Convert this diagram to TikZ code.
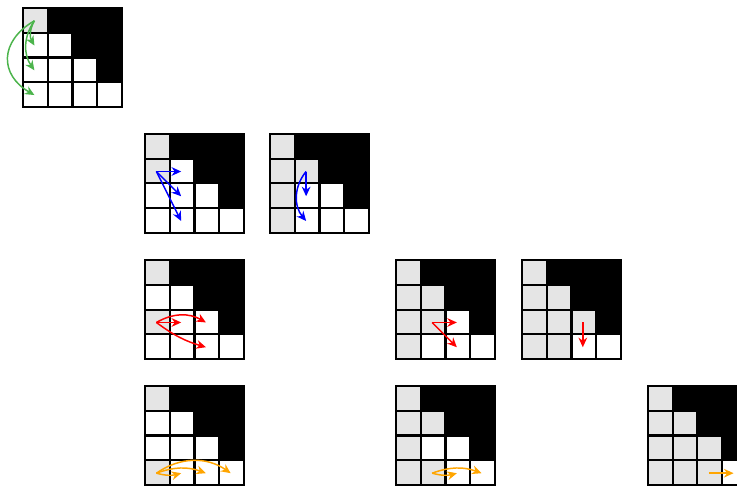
\documentclass[tikz,border=0pt]{standalone}
\usetikzlibrary{arrows.meta}
\definecolor{cellgray}{RGB}{229,229,229}
\definecolor{mvgreen}{RGB}{76,180,76}
\definecolor{mvorange}{RGB}{255,165,0}
\tikzset{
 mv/.style={-{Stealth[length=5.5pt,width=5pt]},line width=0.85pt},
 gridline/.style={line width=1.25pt,black,line cap=rect}
}
% board: name, top-left corner, grey cells (row/col)
\newcommand{\drawboard}[3]{%
 \begin{scope}[shift={#2}]
  \foreach \r/\c in {#3} \fill[cellgray] (\c,-\r) rectangle ++(1,-1);
  \fill[black] (1,0) -- (4,0) -- (4,-3) -- (3,-3) -- (3,-2) -- (2,-2) -- (2,-1) -- (1,-1) -- cycle;
  \foreach \k in {0,...,4}{
   \draw[gridline] (\k,0) -- (\k,-4);
   \draw[gridline] (0,-\k) -- (4,-\k);
  }
  \foreach \r in {0,...,3}
   \foreach \c in {0,...,3}
    \coordinate (#1-\r\c) at (\c+0.46,-\r-0.52);
 \end{scope}}

\begin{document}
\begin{tikzpicture}[x=0.5cm,y=0.5cm]
\useasboundingbox (0,0) rectangle (29.78,19.6);
% boards
\drawboard{a}{(0.93,19.28)}{0/0}
\drawboard{b}{(5.86,14.19)}{0/0,1/0}
\drawboard{c}{(10.91,14.19)}{0/0,1/0,2/0,3/0,1/1}
\drawboard{d}{(5.86,9.09)}{0/0,2/0}
\drawboard{e}{(16,9.09)}{0/0,1/0,1/1,2/0,2/1,3/0}
\drawboard{f}{(21.09,9.09)}{0/0,1/0,1/1,2/0,2/1,2/2,3/0,3/1}
\drawboard{g}{(5.86,4)}{0/0,3/0}
\drawboard{h}{(16,4)}{0/0,1/0,1/1,2/0,3/0,3/1}
\drawboard{i}{(26.18,4)}{0/0,1/0,1/1,2/0,2/1,2/2,3/0,3/1,3/2}
% moves
\draw[mv,mvgreen] (a-00) to[bend right=30] (a-10);
\draw[mv,mvgreen] (a-00) to[bend right=35] (a-20);
\draw[mv,mvgreen] (a-00) to[bend right=60,looseness=1.4] (a-30);
\foreach \t in {11,21,31} \draw[mv,blue] (b-10) -- (b-\t);
\draw[mv,blue] (c-11) -- (c-21);
\draw[mv,blue] (c-11) to[bend right=40] (c-31);
\draw[mv,red] (d-20) -- (d-21);
\draw[mv,red] (d-20) to[bend left=30] (d-22);
\draw[mv,red] (d-20) to[bend right=10] (d-32);
\draw[mv,red] (e-21) -- (e-22);
\draw[mv,red] (e-21) -- (e-32);
\draw[mv,red] (f-22) -- (f-32);
\draw[mv,mvorange] (g-30) to[bend right=15] (g-31);
\draw[mv,mvorange] (g-30) to[bend left=20] (g-32);
\draw[mv,mvorange] (g-30) to[bend left=35] (g-33);
\draw[mv,mvorange] (h-31) to[bend right=15] (h-32);
\draw[mv,mvorange] (h-31) to[bend left=20] (h-33);
\draw[mv,mvorange] (i-32) -- (i-33);
\end{tikzpicture}
\end{document}
